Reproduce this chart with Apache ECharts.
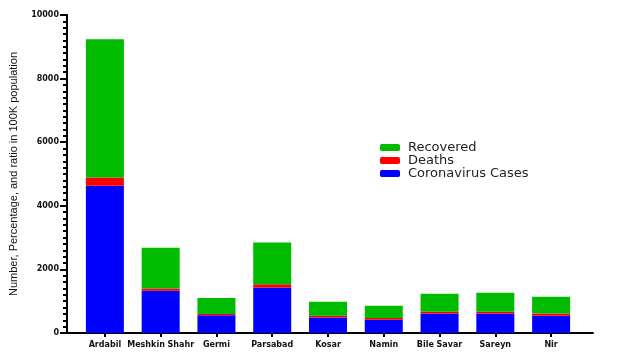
<!DOCTYPE html>
<html><head><meta charset="utf-8">
<script src="https://cdn.jsdelivr.net/npm/echarts@6/dist/echarts.min.js"></script>
<style>html,body{margin:0;padding:0;background:#fff}#c{width:627px;height:361px}</style>
</head><body><div id="c"></div>
<script>
const categories = ['Ardabil','Meshkin Shahr','Germi','Parsabad','Kosar','Namin','Bile Savar','Sareyn','Nir'];
const cases = [4630, 1330, 555, 1430, 490, 420, 615, 615, 545];
const deaths = [260, 70, 45, 105, 50, 50, 50, 50, 70];
const recovered = [4350, 1280, 500, 1310, 440, 390, 570, 600, 525];
const yTicks = [0, 2000, 4000, 6000, 8000, 10000];

const chart = echarts.init(document.getElementById('c'));
const font = 'Liberation Sans, Arial, sans-serif';
const wide = 'DejaVu Sans, sans-serif';
chart.setOption({
  animation: false,
  grid: [
    {left: 67, right: 34, top: 15, bottom: 28, outerBoundsMode: 'none', containLabel: false},
    {left: 77, right: 48, top: 15, bottom: 28, outerBoundsMode: 'none', containLabel: false}
  ],
  legend: {
    orient: 'vertical', left: 380, top: 141, padding: 0, itemWidth: 20, itemHeight: 7, itemGap: 0,
    data: ['Recovered','Deaths','Coronavirus Cases'],
    textStyle: {fontFamily: wide, fontSize: 13, lineHeight: 12.3, color: '#222', padding: [0,0,0,3]},
    icon: 'roundRect'
  },
  xAxis: [
    {gridIndex: 0, type: 'value', min: 0, max: 1, axisLine: {show: true, onZero: false, lineStyle: {color: '#000', width: 2}},
     axisTick: {show: false}, axisLabel: {show: false}, splitLine: {show: false}},
    {gridIndex: 1, type: 'category', data: categories,
     axisLine: {show: false}, axisTick: {show: true, alignWithLabel: true, length: 4, lineStyle: {color: '#000', width: 2}},
     axisLabel: {interval: 0, fontFamily: wide, fontWeight: 'bold', fontSize: 8, color: '#111', margin: 8},
     splitLine: {show: false}}
  ],
  yAxis: [
    {gridIndex: 0, type: 'value', min: yTicks[0], max: yTicks[yTicks.length-1], interval: 2000,
     name: 'Number, Percentage, and ratio in 100K population', nameLocation: 'middle', nameGap: 48,
     nameTextStyle: {fontFamily: font, fontSize: 11, color: '#111'},
     axisLine: {show: true, lineStyle: {color: '#000', width: 2}},
     axisTick: {show: true, length: 7, lineStyle: {color: '#000', width: 2}},
     minorTick: {show: true, splitNumber: 10, length: 4, lineStyle: {color: '#000', width: 2}},
     axisLabel: {fontFamily: wide, fontWeight: 'bold', fontSize: 8, color: '#111', margin: 8,
                 formatter: v => String(v)},
     splitLine: {show: false}},
    {gridIndex: 1, type: 'value', min: yTicks[0], max: yTicks[yTicks.length-1], show: false}
  ],
  series: [
    {name: 'Coronavirus Cases', type: 'bar', stack: 's', xAxisIndex: 1, yAxisIndex: 1, data: cases, barWidth: 38, itemStyle: {color: '#0000ff'}},
    {name: 'Deaths', type: 'bar', stack: 's', xAxisIndex: 1, yAxisIndex: 1, data: deaths, barWidth: 38, itemStyle: {color: '#ff0000'}},
    {name: 'Recovered', type: 'bar', stack: 's', xAxisIndex: 1, yAxisIndex: 1, data: recovered, barWidth: 38, itemStyle: {color: '#00bb00'}}
  ]
});
</script></body></html>
